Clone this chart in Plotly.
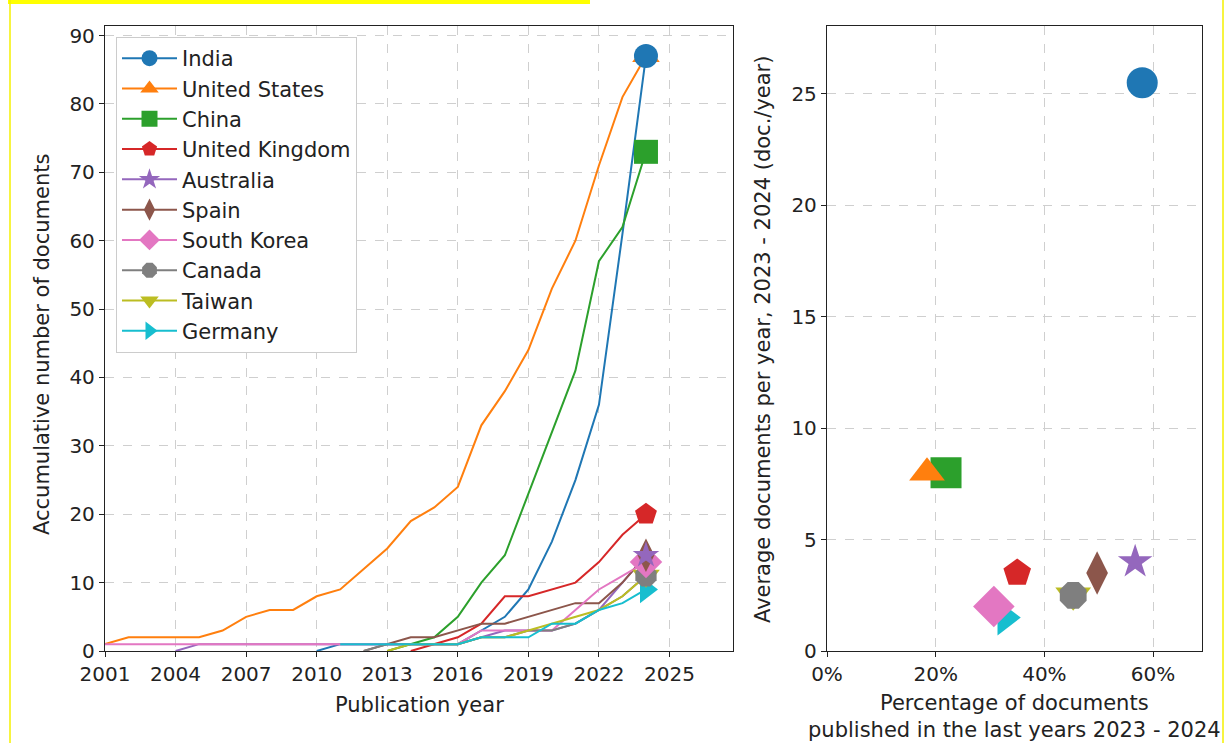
import plotly.graph_objects as go

# Publication years shown on the left panel
years = list(range(2001, 2025))

countries = ["India", "United States", "China", "United Kingdom", "Australia",
             "Spain", "South Korea", "Canada", "Taiwan", "Germany"]

# Cumulative number of documents per year (None = no publications yet)
india = [None] * 9 + [0, 1, 1, 1, 1, 1, 1, 3, 5, 9, 16, 25, 36, 61, 87]
united_states = [1, 2, 2, 2, 2, 3, 5, 6, 6, 8, 9, 12, 15, 19, 21, 24, 33, 38, 44, 53, 60, 71, 81, 87]
china = [None] * 12 + [0, 1, 2, 5, 10, 14, 23, 32, 41, 57, 62, 73]
united_kingdom = [None] * 13 + [0, 1, 2, 4, 8, 8, 9, 10, 13, 17, 20]
australia = [None] * 3 + [0] + [1] * 12 + [2, 3, 3, 3, 4, 6, 10, 14]
spain = [None] * 11 + [0, 1, 2, 2, 3, 4, 4, 5, 6, 7, 7, 10, 14]
south_korea = [1] * 16 + [3, 3, 3, 3, 6, 9, 11, 13]
canada = [None] * 11 + [0, 1, 1, 1, 1, 2, 2, 3, 3, 4, 6, 8, 11]
taiwan = [None] * 12 + [0, 1, 1, 1, 2, 2, 3, 4, 5, 6, 8, 11]
germany = [None] * 10 + [1, 1, 1, 1, 1, 1, 2, 2, 2, 4, 4, 6, 7, 9]

series = [india, united_states, china, united_kingdom, australia,
          spain, south_korea, canada, taiwan, germany]

# Share of documents published in 2023-2024 (%) and average docs/year in that window
pct_recent = [58.0, 18.4, 21.9, 35.0, 56.7, 49.7, 30.7, 45.3, 45.3, 32.8]
avg_recent = [25.5, 8.0, 8.0, 3.5, 4.0, 3.5, 2.0, 2.5, 2.5, 1.5]

x_ticks = list(range(2001, 2026, 3))
pct_ticks = [0, 20, 40, 60]
pct_labels = ["0%", "20%", "40%", "60%"]

colors = ["#1f77b4", "#ff7f0e", "#2ca02c", "#d62728", "#9467bd",
          "#8c564b", "#e377c2", "#7f7f7f", "#bcbd22", "#17becf"]
symbols = ["circle", "triangle-up", "square", "pentagon", "star",
           "diamond-tall", "diamond", "octagon", "triangle-down", "triangle-right"]
big_sizes = [31, 31, 31, 29, 26, 31, 32, 29, 31, 31]

W, H = 1225, 743
FONT = "DejaVu Sans"


def px(x):
    return x / W


def py(y):
    return 1 - y / H


fig = go.Figure()

# Cumulative lines
for name, vals, col in zip(countries, series, colors):
    fig.add_trace(go.Scatter(
        x=years, y=vals, name=name, mode="lines", showlegend=False,
        line=dict(color=col, width=2), xaxis="x", yaxis="y",
    ))

# Legend entries (line + marker sample)
for name, col, sym in zip(countries, colors, symbols):
    fig.add_trace(go.Scatter(
        x=[None], y=[None], name=name, mode="lines+markers",
        line=dict(color=col, width=2),
        marker=dict(symbol=sym, size=22, color=col, line=dict(width=0)),
        legendgroup=name, xaxis="x", yaxis="y",
    ))

# End-of-series markers (2024), drawn last-to-first
for name, vals, col, sym, sz in list(zip(countries, series, colors, symbols, big_sizes))[::-1]:
    fig.add_trace(go.Scatter(
        x=[years[-1]], y=[vals[-1]], name=name, mode="markers", showlegend=False,
        marker=dict(symbol=sym, size=round(sz * 0.78), color=col, line=dict(width=0)),
        xaxis="x", yaxis="y",
    ))

# Right panel: recent share vs. recent rate, drawn last-to-first
for name, xv, yv, col, sym, sz in list(zip(countries, pct_recent, avg_recent, colors, symbols, big_sizes))[::-1]:
    fig.add_trace(go.Scatter(
        x=[xv], y=[yv], name=name, mode="markers", showlegend=False,
        marker=dict(symbol=sym, size=sz, color=col, line=dict(width=0)),
        xaxis="x2", yaxis="y2",
    ))

axis_common = dict(
    showline=True, mirror=True, linecolor="#222", linewidth=1.3,
    ticks="outside", ticklen=5, tickwidth=1.2, tickcolor="#222",
    showgrid=True, gridcolor="#cfcfcf", griddash="dash", gridwidth=1,
    zeroline=False, automargin=False,
    tickfont=dict(family=FONT, size=20, color="#222"),
)

y_dom = [py(651), py(26)]

fig.update_layout(
    width=W, height=H,
    margin=dict(l=0, r=0, t=0, b=0),
    paper_bgcolor="white", plot_bgcolor="white",
    font=dict(family=FONT, size=21, color="#222"),
    xaxis=dict(domain=[px(105), px(733)], range=[2001, 2027.7],
               tickvals=x_ticks, anchor="y", **axis_common),
    yaxis=dict(domain=y_dom, range=[0, 91.4], dtick=10, anchor="x", **axis_common),
    xaxis2=dict(domain=[px(827), px(1202)], range=[0, 69],
                tickvals=pct_ticks, ticktext=pct_labels, anchor="y2", **axis_common),
    yaxis2=dict(domain=y_dom, range=[0, 28.05], dtick=5, anchor="x2", **axis_common),
    legend=dict(
        x=px(116), y=py(37), xanchor="left", yanchor="top",
        bgcolor="white", bordercolor="#cccccc", borderwidth=1,
        font=dict(family=FONT, size=21, color="#222"),
        tracegroupgap=3, itemsizing="trace", itemwidth=55, traceorder="normal",
    ),
    showlegend=True,
)

annotations = [
    dict(text="Publication year", x=px(419), y=py(705)),
    dict(text="Accumulative number of documents", x=px(42), y=py(345), textangle=-90),
    dict(text="Average documents per year, 2023 - 2024 (doc./year)", x=px(763), y=py(340), textangle=-90),
    dict(text="Percentage of documents<br>published in the last years 2023 - 2024", x=px(1014), y=py(716)),
]
for a in annotations:
    fig.add_annotation(xref="paper", yref="paper", showarrow=False,
                       xanchor="center", yanchor="middle",
                       font=dict(family=FONT, size=21, color="#222"), **a)

# Page frame: highlighted caption strip and side rules
fig.add_shape(type="rect", xref="paper", yref="paper",
              x0=px(8), x1=px(590), y0=py(4), y1=1, fillcolor="#ffff00", line=dict(width=0))
fig.add_shape(type="line", xref="paper", yref="paper",
              x0=px(10), x1=px(10), y0=0, y1=1, line=dict(color="#f4f000", width=1.5))
fig.add_shape(type="line", xref="paper", yref="paper",
              x0=px(1223), x1=px(1223), y0=0, y1=1, line=dict(color="#f4f000", width=1.5))

fig.write_html("out.html")
